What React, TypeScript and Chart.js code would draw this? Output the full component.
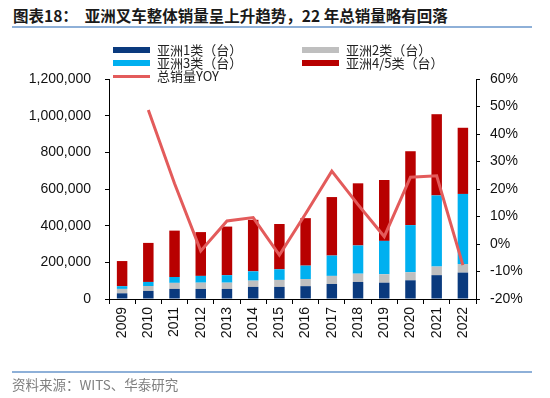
import React, { useEffect, useRef } from "react";
import { Chart, registerables } from "chart.js";

Chart.register(...registerables);

const years = ["2009", "2010", "2011", "2012", "2013", "2014", "2015", "2016", "2017", "2018", "2019", "2020", "2021", "2022"];
const asia1 = [31000, 44000, 55000, 55000, 55000, 66000, 66000, 70000, 82000, 93000, 89000, 102000, 130000, 144000];
const asia2 = [24000, 27000, 33000, 34000, 34000, 34000, 38000, 39000, 44000, 45000, 46000, 44000, 47000, 47000];
const asia3 = [15000, 22000, 32000, 37000, 41000, 51000, 58000, 73000, 111000, 154000, 182000, 257000, 388000, 382000];
const asia45 = [137000, 213000, 253000, 239000, 265000, 281000, 247000, 259000, 319000, 339000, 332000, 403000, 443000, 361000];
const yoy = [null, 48.7, 22, -2.5, 8.4, 9.6, -4, 11, 26.5, 14.3, 2.7, 24.3, 24.8, -7.7];

const seriesNames = ["亚洲1类（台）", "亚洲2类（台）", "亚洲3类（台）", "亚洲4/5类（台）", "总销量YOY"];
const colors = ["#0A3A7E", "#BFBFBF", "#00B0F0", "#B80000", "#E35B5B"];

const tickFont = { family: "'Liberation Sans', Arial, sans-serif", size: 14 };

export default function App() {
  const ref = useRef<HTMLCanvasElement | null>(null);

  useEffect(() => {
    if (!ref.current) return;
    const barBase = { stack: "s", yAxisID: "y", order: 1, barPercentage: 0.4, categoryPercentage: 1, borderWidth: 0 };
    const chart = new Chart(ref.current, {
      type: "bar",
      data: {
        labels: years,
        datasets: [
          { ...barBase, label: seriesNames[0], data: asia1, backgroundColor: colors[0] },
          { ...barBase, label: seriesNames[1], data: asia2, backgroundColor: colors[1] },
          { ...barBase, label: seriesNames[2], data: asia3, backgroundColor: colors[2] },
          { ...barBase, label: seriesNames[3], data: asia45, backgroundColor: colors[3] },
          {
            type: "line",
            label: seriesNames[4],
            data: yoy,
            yAxisID: "y1",
            order: 0,
            borderColor: colors[4],
            backgroundColor: colors[4],
            borderWidth: 3,
            pointRadius: 0,
            tension: 0,
          } as any,
        ],
      },
      options: {
        animation: false,
        responsive: false,
        maintainAspectRatio: false,
        layout: { padding: { top: 79, left: 0, right: 0, bottom: 0 } },
        plugins: { legend: { display: false }, tooltip: { enabled: false }, title: { display: false } },
        scales: {
          x: {
            stacked: true,
            offset: true,
            grid: { display: true, drawOnChartArea: false, drawTicks: true, tickLength: 5, color: "#000", offset: true },
            border: { display: true, color: "#000", width: 1 },
            ticks: { color: "#111", font: tickFont, maxRotation: 90, minRotation: 90, padding: 3, autoSkip: false },
            afterFit: (s: any) => { s.height = 99; },
          },
          y: {
            stacked: true,
            position: "left",
            min: 0,
            max: 1200000,
            grid: { display: true, drawOnChartArea: false, drawTicks: true, tickLength: 4, color: "#000" },
            border: { display: true, color: "#000", width: 1 },
            ticks: {
              stepSize: 200000,
              color: "#111",
              font: tickFont,
              padding: 14,
              callback: (v: any) => Number(v).toLocaleString("en-US"),
            },
            afterFit: (s: any) => { s.width = 109; },
          },
          y1: {
            position: "right",
            min: -20,
            max: 60,
            grid: { display: true, drawOnChartArea: false, drawTicks: true, tickLength: 4, color: "#000" },
            border: { display: true, color: "#000", width: 1 },
            ticks: {
              stepSize: 10,
              color: "#111",
              font: tickFont,
              padding: 10,
              callback: (v: any) => v + "%",
            },
            afterFit: (s: any) => { s.width = 74; },
          },
        },
      },
    });
    return () => chart.destroy();
  }, []);

  const legendFont = "'Noto Sans CJK SC', 'Liberation Sans', sans-serif";
  const legendItems = [
    { i: 0, bx: 113, tx: 157, cy: 49.5, kind: "box" },
    { i: 1, bx: 302, tx: 346, cy: 49.5, kind: "box" },
    { i: 2, bx: 113, tx: 157, cy: 62.5, kind: "box" },
    { i: 3, bx: 302, tx: 346, cy: 62.5, kind: "box" },
    { i: 4, bx: 113, tx: 157, cy: 76, kind: "line" },
  ];

  return (
    <div style={{ position: "absolute", left: 0, top: 0, width: 550, height: 398, background: "#fff", overflow: "hidden" }}>
      <div
        style={{
          position: "absolute",
          left: 13,
          top: 5,
          fontFamily: "'Noto Sans CJK SC', sans-serif",
          fontWeight: 700,
          fontSize: 15.5,
          lineHeight: "20px",
          color: "#1a1a1a",
          whiteSpace: "pre",
        }}
      >
        图表18：  亚洲叉车整体销量呈上升趋势，22 年总销量略有回落
      </div>
      <div style={{ position: "absolute", left: 12, top: 26, width: 520, height: 1.5, background: "#8EB0D8" }} />
      <canvas ref={ref} width={550} height={398} style={{ position: "absolute", left: 0, top: 0, width: 550, height: 398 }} />
      {legendItems.map((it) => (
        <React.Fragment key={it.i}>
          <div
            style={{
              position: "absolute",
              left: it.bx,
              top: it.kind === "box" ? it.cy - 3 : it.cy - 1.5,
              width: 37,
              height: it.kind === "box" ? 6 : 3,
              background: colors[it.i],
            }}
          />
          <div
            style={{
              position: "absolute",
              left: it.tx,
              top: it.cy - 9,
              height: 18,
              lineHeight: "18px",
              fontFamily: legendFont,
              fontSize: 13,
              color: "#222",
              whiteSpace: "pre",
            }}
          >
            {seriesNames[it.i]}
          </div>
        </React.Fragment>
      ))}
      <div style={{ position: "absolute", left: 12, top: 371, width: 520, height: 1.5, background: "#8EB0D8" }} />
      <div
        style={{
          position: "absolute",
          left: 12,
          top: 375,
          lineHeight: "18px",
          fontFamily: "'Noto Sans CJK SC', sans-serif",
          fontSize: 13.5,
          color: "#808080",
          whiteSpace: "pre",
        }}
      >
        资料来源：WITS、华泰研究
      </div>
    </div>
  );
}
